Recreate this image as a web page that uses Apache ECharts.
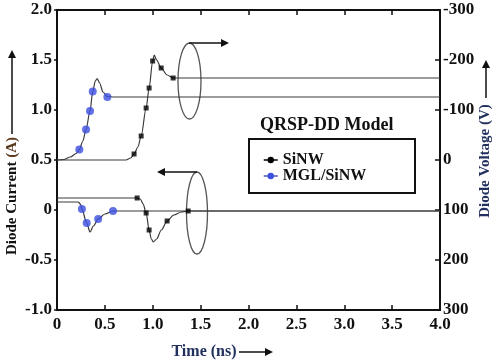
<!DOCTYPE html>
<html>
<head>
<meta charset="utf-8">
<script src="https://cdn.jsdelivr.net/npm/echarts@6/dist/echarts.min.js"></script>
<style>
  html, body { margin: 0; padding: 0; background: #fff; }
  #chart { width: 498px; height: 361px; }
</style>
</head>
<body>
<div id="chart"></div>
<script>
// time (ns) ticks
const timeTicks = [0, 0.5, 1.0, 1.5, 2.0, 2.5, 3.0, 3.5, 4.0]

// diode current (A), left axis  -> [t, I]
const sinwCurrent = [[0, 0.12], [0.80, 0.12], [0.837, 0.12], [0.87, 0.11], [0.90, 0.06], [0.931, -0.03],
  [0.962, -0.2], [0.985, -0.29], [1.007, -0.32], [1.04, -0.29], [1.09, -0.2], [1.15, -0.11],
  [1.22, -0.05], [1.30, -0.02], [1.37, -0.01], [4.0, -0.01]]
const sinwCurrentPts = [[0.837, 0.12], [0.931, -0.03], [0.962, -0.2], [1.15, -0.11], [1.37, -0.01]]

const mglCurrent = [[0, 0.08], [0.22, 0.08], [0.245, 0.06], [0.26, 0.01], [0.31, -0.13],
  [0.345, -0.22], [0.38, -0.16], [0.43, -0.09], [0.50, -0.04], [0.585, -0.01], [4.0, -0.01]]
const mglCurrentPts = [[0.26, 0.01], [0.31, -0.13], [0.43, -0.09], [0.585, -0.01]]

// diode voltage (V), right axis (inverted) -> [t, V]
const sinwVoltage = [[0, 0], [0.72, 0], [0.77, -4], [0.805, -12], [0.845, -26], [0.879, -48],
  [0.931, -104], [0.962, -144], [0.999, -198], [1.015, -210], [1.04, -200], [1.088, -184],
  [1.15, -170], [1.213, -164], [4.0, -164]]
const sinwVoltagePts = [[0.805, -12], [0.879, -48], [0.931, -104], [0.962, -144], [0.999, -198],
  [1.088, -184], [1.213, -164]]

const mglVoltage = [[0, 0], [0.07, -1], [0.14, -6], [0.2, -13], [0.233, -21], [0.27, -38],
  [0.303, -61], [0.345, -98], [0.373, -137], [0.40, -158], [0.42, -163], [0.445, -154],
  [0.48, -136], [0.526, -127], [0.6, -126], [4.0, -126]]
const mglVoltagePts = [[0.233, -21], [0.303, -61], [0.345, -98], [0.373, -137], [0.526, -126]]

const font = 'Liberation Serif'
const lineColor = '#3a3a3a'
const blue = '#3b4fe0'

const chart = echarts.init(document.getElementById('chart'))

function curve(name, data, yAxisIndex) {
  return {
    name: name,
    type: 'line',
    yAxisIndex: yAxisIndex,
    data: data,
    symbol: 'circle',
    showSymbol: false,
    smooth: 0.3,
    smoothMonotone: 'x',
    lineStyle: { color: lineColor, width: 1.2 },
    itemStyle: { color: lineColor },
    z: 2
  }
}
function marks(name, data, yAxisIndex, symbol, size, color) {
  return {
    name: name,
    type: 'scatter',
    yAxisIndex: yAxisIndex,
    data: data,
    symbol: symbol,
    symbolSize: size,
    itemStyle: { color: color },
    z: 3
  }
}

function arrow(x1, y1, x2, y2) {
  // head at (x2, y2)
  const dx = x2 - x1, dy = y2 - y1
  const len = Math.sqrt(dx * dx + dy * dy)
  const ux = dx / len, uy = dy / len
  const hl = 8, hw = 4
  return [
    { type: 'line', shape: { x1: x1, y1: y1, x2: x2 - ux * hl, y2: y2 - uy * hl },
      style: { stroke: '#111', lineWidth: 1.5 } },
    { type: 'polygon', shape: { points: [[x2, y2],
      [x2 - ux * hl - uy * hw, y2 - uy * hl + ux * hw],
      [x2 - ux * hl + uy * hw, y2 - uy * hl - ux * hw]] },
      style: { fill: '#111' } }
  ]
}

const tickFmt = v => (v === 0 ? '0' : v.toFixed(1))
const axisLine = { show: true, onZero: false, lineStyle: { color: '#111', width: 2 } }

chart.setOption({
  animation: false,
  grid: { left: 57, right: 58, top: 10, bottom: 51 },
  xAxis: [{
    type: 'value', min: 0, max: 4, interval: 0.5, position: 'bottom',
    axisLine: axisLine,
    axisTick: { inside: true, length: 5, lineStyle: { color: '#111', width: 1.5 } },
    axisLabel: { margin: 6, color: '#111', fontFamily: font, fontWeight: 'bold', fontSize: 17, formatter: tickFmt },
    splitLine: { show: false }
  }, {
    type: 'value', min: 0, max: 4, interval: 0.5, position: 'top',
    axisLine: axisLine,
    axisTick: { show: true, inside: true, length: 5, lineStyle: { color: '#111', width: 1.5 } },
    axisLabel: { show: false },
    splitLine: { show: false }
  }],
  yAxis: [{
    type: 'value', min: -1, max: 2, interval: 0.5, position: 'left',
    axisLine: axisLine,
    axisTick: { show: true, length: 3, lineStyle: { color: '#111', width: 1.5 } },
    axisLabel: { margin: 5, color: '#111', fontFamily: font, fontWeight: 'bold', fontSize: 17, formatter: tickFmt },
    splitLine: { show: false }
  }, {
    type: 'value', min: -300, max: 300, interval: 100, inverse: true, position: 'right',
    axisLine: axisLine,
    axisTick: { show: true, inside: true, length: 5, lineStyle: { color: '#111', width: 1.5 } },
    axisLabel: { margin: 3, color: '#111', fontFamily: font, fontWeight: 'bold', fontSize: 17 },
    splitLine: { show: false }
  }],
  legend: {
    orient: 'vertical', left: 258, top: 147, itemWidth: 14, itemHeight: 8, itemGap: 0,
    textStyle: { fontFamily: font, fontWeight: 'bold', fontSize: 16, color: '#111', lineHeight: 15 },
    data: [
      { name: 'SiNW', itemStyle: { color: '#000' }, lineStyle: { color: '#000', width: 1.5 } },
      { name: 'MGL/SiNW', itemStyle: { color: blue }, lineStyle: { color: '#4a5ab0', width: 1.5 } }
    ]
  },
  series: [
    curve('SiNW', sinwCurrent, 0),
    curve('MGL/SiNW', mglCurrent, 0),
    curve('SiNW V', sinwVoltage, 1),
    curve('MGL/SiNW V', mglVoltage, 1),
    marks('SiNW I pts', sinwCurrentPts, 0, 'rect', 5, '#000'),
    marks('SiNW V pts', sinwVoltagePts, 1, 'rect', 5, '#000'),
    marks('MGL I pts', mglCurrentPts, 0, 'circle', 8, blue),
    marks('MGL V pts', mglVoltagePts, 1, 'circle', 8, blue)
  ],
  graphic: [
    // annotation ellipses + arrows
    { type: 'ellipse', shape: { cx: 189.5, cy: 81, rx: 11.5, ry: 38 },
      style: { fill: null, stroke: '#555', lineWidth: 1.3 } },
    ...arrow(189, 43, 229, 43),
    { type: 'ellipse', shape: { cx: 197, cy: 213, rx: 10.5, ry: 41 },
      style: { fill: null, stroke: '#555', lineWidth: 1.3 } },
    ...arrow(197, 172, 157, 172),
    // legend box + title
    { type: 'rect', shape: { x: 249, y: 139, width: 166, height: 54 },
      style: { fill: null, stroke: '#111', lineWidth: 2 } },
    { type: 'text', left: 260, top: 116,
      style: { text: 'QRSP-DD Model', font: 'bold 18px "Liberation Serif"', fill: '#111' } },
    // axis titles
    { type: 'text', x: 12, y: 196, rotation: Math.PI / 2,
      style: { text: '{a|Diode Current }{b|(A)}', align: 'center', verticalAlign: 'middle',
        rich: { a: { font: 'bold 15px "Liberation Serif"', fill: '#111' },
                b: { font: 'bold 15px "Liberation Serif"', fill: '#5a3a1e' } } } },
    ...arrow(12, 134, 12, 50),
    { type: 'text', x: 485, y: 161, rotation: Math.PI / 2,
      style: { text: 'Diode Voltage (V)', align: 'center', verticalAlign: 'middle',
        font: 'bold 15px "Liberation Serif"', fill: '#22305e' } },
    ...arrow(486, 98, 486, 60),
    { type: 'text', x: 204, y: 352,
      style: { text: 'Time (ns)', align: 'center', verticalAlign: 'middle',
        font: 'bold 16px "Liberation Serif"', fill: '#22305e' } },
    ...arrow(239, 352, 273, 352)
  ]
})
</script>
</body>
</html>
